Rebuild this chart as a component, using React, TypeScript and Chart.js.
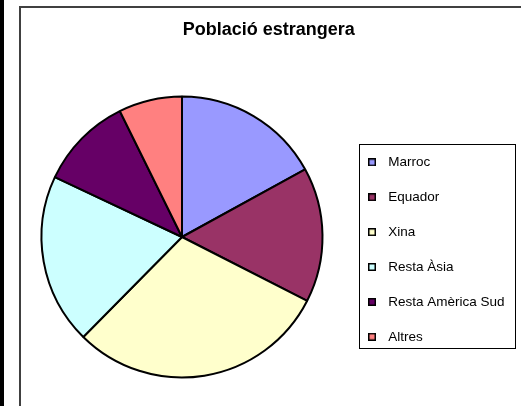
import React, { useEffect, useRef } from "react";
import { Chart, registerables } from "chart.js";

Chart.register(...registerables);

const TITLE = "Població estrangera";
const categories = ["Marroc", "Equador", "Xina", "Resta Àsia", "Resta Amèrica Sud", "Altres"];
const values = [17.0, 15.5, 29.9, 19.6, 10.7, 7.3];
const colors = ["#9999FF", "#993366", "#FFFFCC", "#CCFFFF", "#660066", "#FF8080"];

const FONT = "'Liberation Sans', Arial, Helvetica, sans-serif";

function makeSwatch(color: string): HTMLCanvasElement {
  const c = document.createElement("canvas");
  c.width = 8;
  c.height = 8;
  const ctx = c.getContext("2d")!;
  ctx.fillStyle = "#000000";
  ctx.fillRect(0, 0, 8, 8);
  ctx.fillStyle = color;
  ctx.fillRect(1.5, 1.5, 5, 5);
  return c;
}

const decorPlugin = {
  id: "decor",
  afterLayout(chart: any) {
    const lg = chart.legend;
    if (lg) {
      const d = 12.55;
      lg.top += d;
      lg.bottom += d;
    }
  },
  beforeDraw(chart: any) {
    const ctx = chart.ctx;
    ctx.save();
    ctx.fillStyle = "#ffffff";
    ctx.fillRect(0, 0, chart.width, chart.height);
    ctx.fillStyle = "#000000";
    ctx.fillRect(0, 0, 4, chart.height);
    ctx.strokeStyle = "#404040";
    ctx.lineWidth = 2;
    ctx.beginPath();
    ctx.moveTo(20, chart.height + 2);
    ctx.lineTo(20, 7);
    ctx.lineTo(chart.width + 2, 7);
    ctx.stroke();
    ctx.restore();
  },
  afterDraw(chart: any) {
    const ctx = chart.ctx;
    ctx.save();
    ctx.strokeStyle = "#000000";
    ctx.lineWidth = 1;
    ctx.strokeRect(359.5, 144.5, 156, 204);
    ctx.restore();
  },
};

export default function App() {
  const ref = useRef<HTMLCanvasElement | null>(null);

  useEffect(() => {
    if (!ref.current) return;
    const swatches = colors.map(makeSwatch);
    const chart = new Chart(ref.current, {
      type: "pie",
      data: {
        labels: categories,
        datasets: [
          {
            data: values,
            backgroundColor: colors,
            borderColor: "#000000",
            borderWidth: 2,
          },
        ],
      },
      options: {
        responsive: false,
        animation: false,
        devicePixelRatio: 1,
        layout: { padding: { left: 22.95, right: 6.4, top: 0, bottom: 27.5 } },
        plugins: {
          title: {
            display: true,
            text: TITLE,
            color: "#000000",
            font: { family: FONT, size: 18, weight: "bold", lineHeight: 1.2 },
            padding: { top: 18.8, bottom: 55.1 },
          },
          legend: {
            display: true,
            position: "right",
            fullSize: false,
            labels: {
              color: "#000000",
              font: { family: FONT, size: 13.5 },
              padding: 21.4,
              usePointStyle: true,
              pointStyleWidth: 19.1,
              generateLabels: (c: any) => {
                const base = (Chart as any).overrides.doughnut.plugins.legend.labels.generateLabels(c);
                return base.map((it: any, i: number) => ({ ...it, pointStyle: swatches[i] }));
              },
            },
          },
          tooltip: { enabled: false },
        },
      } as any,
      plugins: [decorPlugin],
    });
    return () => chart.destroy();
  }, []);

  return (
    <div style={{ position: "absolute", left: 0, top: 0, width: 521, height: 406 }}>
      <canvas ref={ref} width={521} height={406} style={{ display: "block" }} />
    </div>
  );
}
